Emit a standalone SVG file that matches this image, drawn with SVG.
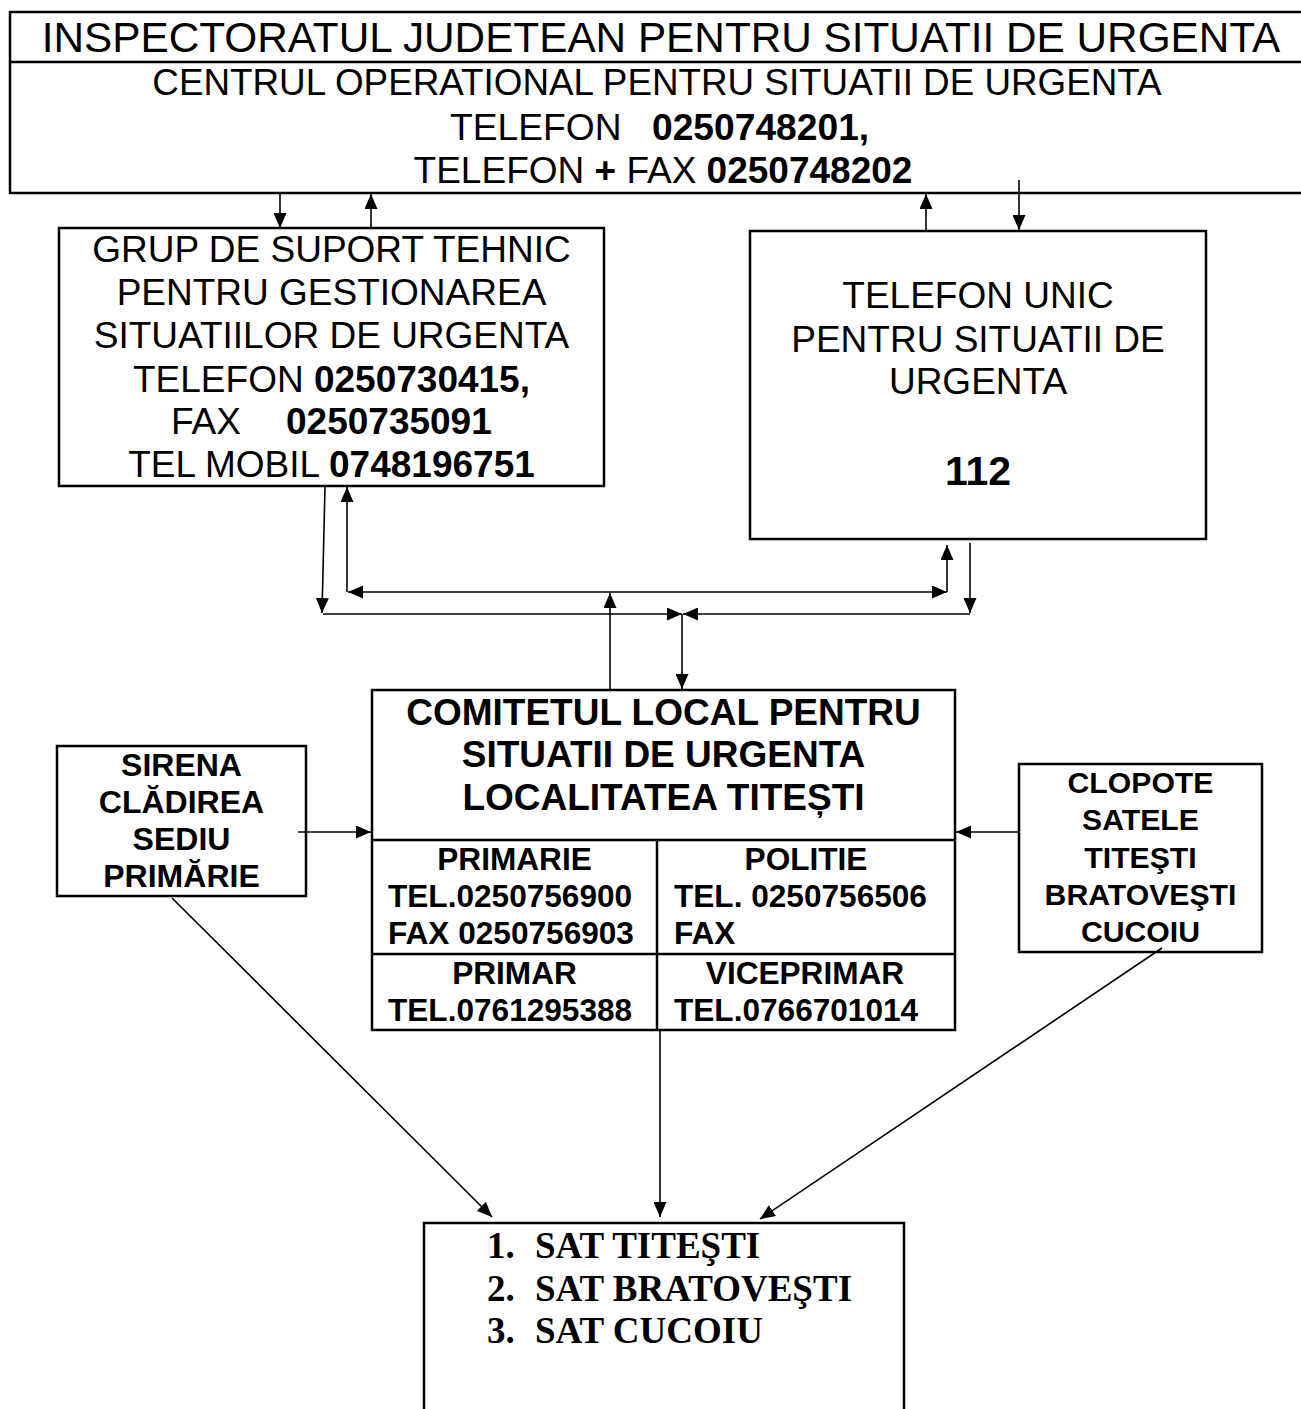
<svg xmlns="http://www.w3.org/2000/svg" width="1301" height="1409" viewBox="0 0 1301 1409">
<style>
.box{fill:none;stroke:#000;stroke-width:2.5}
.ln{fill:none;stroke:#000;stroke-width:1.6}
.c{stroke:#000;stroke-width:1.6;fill:none;marker-end:url(#ah)}
.t{font-family:"Liberation Sans",Arial,sans-serif;fill:#000}
.m{text-anchor:middle}
.b{font-weight:bold}
.tr{font-family:"Liberation Serif","Times New Roman",serif;font-weight:bold;font-size:37px;fill:#000}
</style>
<defs>
<marker id="ah" markerUnits="userSpaceOnUse" markerWidth="15" markerHeight="13" viewBox="0 0 15 13" refX="15" refY="6.5" orient="auto">
<path d="M0,0 L15,6.5 L0,13 z" fill="#000"/>
</marker>
</defs>
<rect width="1301" height="1409" fill="#fff"/>

<g id="isu">
<rect class="box" x="10" y="12" width="1310" height="181"/>
<line class="box" x1="10" y1="62" x2="1310" y2="62"/>
<text class="t m" x="661" y="52" font-size="42.3">INSPECTORATUL JUDETEAN PENTRU SITUATII DE URGENTA</text>
<text class="t m" x="657" y="95" font-size="36.8">CENTRUL OPERATIONAL PENTRU SITUATII DE URGENTA</text>
<text class="t" font-size="37.2" y="140"><tspan x="450">TELEFON</tspan><tspan class="b" x="652">0250748201,</tspan></text>
<text class="t m" font-size="37" x="663" y="183">TELEFON <tspan class="b">+</tspan> FAX <tspan class="b">0250748202</tspan></text>
</g>

<g id="grup">
<rect class="box" x="59" y="228" width="545" height="258"/>
<g class="t m" font-size="37">
<text x="331.5" y="262">GRUP DE SUPORT TEHNIC</text>
<text x="331.5" y="305">PENTRU GESTIONAREA</text>
<text x="331.5" y="348">SITUATIILOR DE URGENTA</text>
<text x="331.5" y="392">TELEFON <tspan class="b">0250730415,</tspan></text>
<text x="331.5" y="477">TEL MOBIL <tspan class="b">0748196751</tspan></text>
</g>
<text class="t" font-size="37" y="434"><tspan x="171">FAX</tspan><tspan class="b" x="286">0250735091</tspan></text>
</g>

<g id="tel112">
<rect class="box" x="750" y="231" width="456" height="308"/>
<g class="t m" font-size="37">
<text x="978" y="308">TELEFON UNIC</text>
<text x="978" y="352">PENTRU SITUATII DE</text>
<text x="978" y="394">URGENTA</text>
</g>
<text class="t m b" x="978" y="485" font-size="41">112</text>
</g>

<g id="comitet">
<rect class="box" x="372" y="690" width="583" height="340"/>
<line class="box" x1="372" y1="840" x2="955" y2="840"/>
<line class="box" x1="372" y1="954" x2="955" y2="954"/>
<line class="box" x1="657" y1="840" x2="657" y2="1030"/>
<g class="t m b" font-size="37">
<text x="663.5" y="725">COMITETUL LOCAL PENTRU</text>
<text x="663.5" y="767">SITUATII DE URGENTA</text>
<text x="663.5" y="810">LOCALITATEA TITEȘTI</text>
</g>
<g class="t b" font-size="31.6">
<text class="m" x="514.5" y="870">PRIMARIE</text>
<text x="388" y="907">TEL.0250756900</text>
<text x="388" y="944">FAX 0250756903</text>
<text class="m" x="806" y="870">POLITIE</text>
<text x="674" y="907">TEL. 0250756506</text>
<text x="674" y="944">FAX</text>
<text class="m" x="514.5" y="984">PRIMAR</text>
<text x="388" y="1021">TEL.0761295388</text>
<text class="m" x="805" y="984">VICEPRIMAR</text>
<text x="674" y="1021">TEL.0766701014</text>
</g>
</g>

<g id="sirena">
<rect class="box" x="57" y="746" width="249" height="150"/>
<g class="t m b" font-size="32">
<text x="181.5" y="776">SIRENA</text>
<text x="181.5" y="813">CLĂDIREA</text>
<text x="181.5" y="850">SEDIU</text>
<text x="181.5" y="887">PRIMĂRIE</text>
</g>
</g>

<g id="clopote">
<rect class="box" x="1019" y="764" width="243" height="188"/>
<g class="t m b" font-size="30.2">
<text x="1140.5" y="793">CLOPOTE</text>
<text x="1140.5" y="830">SATELE</text>
<text x="1140.5" y="868">TITEŞTI</text>
<text x="1140.5" y="905">BRATOVEŞTI</text>
<text x="1140.5" y="942">CUCOIU</text>
</g>
</g>

<g id="sate">
<polyline class="box" points="424,1420 424,1223 904,1223 904,1420"/>
<text class="tr" y="1258"><tspan x="487">1.</tspan><tspan x="535">SAT TITEŞTI</tspan></text>
<text class="tr" y="1301"><tspan x="487">2.</tspan><tspan x="535">SAT BRATOVEŞTI</tspan></text>
<text class="tr" y="1343"><tspan x="487">3.</tspan><tspan x="535">SAT CUCOIU</tspan></text>
</g>

<g id="connectors">
<path class="c" d="M280,193 L280,228"/>
<path class="c" d="M371,228 L371,194"/>
<path class="c" d="M926,231 L926,194"/>
<path class="c" d="M1019,180 L1019,230"/>
<path class="c" d="M325,487 L322,613"/>
<path class="c" d="M347,592 L347,487"/>
<path class="c" d="M650,592 L348,592"/>
<path class="c" d="M650,592 L947,592"/>
<path class="c" d="M947,592 L947,545"/>
<path class="c" d="M970,543 L970,613"/>
<path class="c" d="M323,614 L682,614"/>
<path class="c" d="M970,614 L683,614"/>
<path class="c" d="M682,614 L682,689"/>
<path class="c" d="M610,690 L610,593"/>
<path class="c" d="M298,832 L371,832"/>
<path class="c" d="M1019,832 L956,832"/>
<path class="c" d="M172,898 L492,1217"/>
<path class="c" d="M660,1030 L660,1217"/>
<path class="c" d="M1162,948 L760,1219"/>
</g>
</svg>
